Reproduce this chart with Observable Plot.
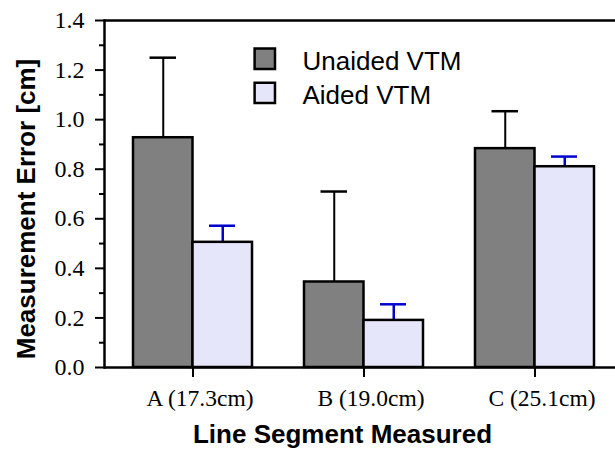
<!DOCTYPE html>
<html><head><meta charset="utf-8">
<script src="https://cdn.jsdelivr.net/npm/d3@7"></script>
<script src="https://cdn.jsdelivr.net/npm/@observablehq/plot@0.6"></script>
<style>body{margin:0;background:#fff} svg{display:block}</style>
</head><body><div id="chart"></div>
<script>
const groups = ["A (17.3cm)", "B (19.0cm)", "C (25.1cm)"];
const seriesNames = ["Unaided VTM", "Aided VTM"];
const unaided = [0.927, 0.345, 0.883];
const unaidedErr = [0.323, 0.365, 0.151];
const aided = [0.505, 0.19, 0.81];
const aidedErr = [0.067, 0.065, 0.041];
const yTicks = [0, 0.2, 0.4, 0.6, 0.8, 1.0, 1.2, 1.4];
const yMinorTicks = [0.1, 0.3, 0.5, 0.7, 0.9, 1.1, 1.3];
const yTitle = "Measurement Error [cm]";
const xTitle = "Line Segment Measured";

const fills = {"Unaided VTM": "#808080", "Aided VTM": "#e6e6fa"};
const errColors = {"Unaided VTM": "#000000", "Aided VTM": "#0000cc"};
const valuesBy = {"Unaided VTM": unaided, "Aided VTM": aided};
const errBy = {"Unaided VTM": unaidedErr, "Aided VTM": aidedErr};

// per-series placement inside a group band (styles)
const layout = {
  "Unaided VTM": {barL: 26, barR: 85.5, capL: 42.5, capR: 102, dx: -29.75},
  "Aided VTM":   {barL: 85.5, barR: 26, capL: 102, capR: 43, dx: 29.75}
};

const sans = "Liberation Sans, Arial, sans-serif";
const serif = "Liberation Serif, Times New Roman, serif";

const marks = [];
// frame lines
marks.push(Plot.ruleY([1.4], {stroke: "black", strokeWidth: 2.5}));
marks.push(Plot.ruleY([0], {stroke: "black", strokeWidth: 2.5}));
marks.push(Plot.frame({anchor: "left", stroke: "black", strokeWidth: 2.5}));
// y axis
marks.push(Plot.axisY(yTicks, {tickSize: 9, tickPadding: 11, tickFormat: d3.format(".1f"),
  fontSize: 24, fontFamily: serif, color: "black", strokeWidth: 2, label: null}));
marks.push(Plot.axisY(yMinorTicks, {tickSize: 5, tickFormat: () => "", color: "black", strokeWidth: 2, label: null}));
// x axis
marks.push(Plot.axisX({tickSize: 10, tickFormat: () => "", color: "black", strokeWidth: 2, label: null}));
marks.push(Plot.axisX({tickSize: 0, tickPadding: 22, dx: 7, fontSize: 23.5, fontFamily: serif, color: "black", label: null}));

for (const s of seriesNames) {
  const rows = groups.map((g, i) => ({group: g, value: valuesBy[s][i], top: valuesBy[s][i] + errBy[s][i]}));
  const L = layout[s];
  marks.push(Plot.ruleX(rows, {x: "group", y1: "value", y2: "top", dx: L.dx, stroke: errColors[s], strokeWidth: s === "Aided VTM" ? 2.5 : 2}));
  marks.push(Plot.tickY(rows, {x: "group", y: "top", insetLeft: L.capL, insetRight: L.capR, stroke: errColors[s], strokeWidth: 2.5}));
  marks.push(Plot.barY(rows, {x: "group", y: "value", insetLeft: L.barL, insetRight: L.barR, fill: fills[s], stroke: "black", strokeWidth: 2.5}));
}

// legend
seriesNames.forEach((s, i) => {
  marks.push(Plot.dot([s], {frameAnchor: "top-left", dx: 160.3, dy: 38.2 + 34.2 * i, symbol: "square", r: 11.5,
    fill: fills[s], stroke: "black", strokeWidth: 2.5}));
  marks.push(Plot.text([s], {frameAnchor: "top-left", dx: 198, dy: 40.7 + 34 * i, text: d => d, textAnchor: "start",
    lineAnchor: "middle", fontSize: 26, fontFamily: sans, fill: "black"}));
});

// titles
marks.push(Plot.text([yTitle], {frameAnchor: "left", rotate: -90, dx: -78, dy: 15, text: d => d, fontSize: 26,
  fontWeight: "bold", fontFamily: sans, fill: "black", textAnchor: "middle", lineAnchor: "middle"}));
marks.push(Plot.text([xTitle], {frameAnchor: "bottom", dx: -17.5, dy: 66.7, text: d => d, fontSize: 26,
  fontWeight: "bold", fontFamily: sans, fill: "black", textAnchor: "middle", lineAnchor: "middle"}));

const chart = Plot.plot({
  width: 615, height: 449,
  marginLeft: 104, marginRight: 0, marginTop: 20, marginBottom: 82,
  style: {background: "white", color: "black", overflow: "visible"},
  x: {domain: groups, range: [107, 620], padding: 0, axis: null},
  y: {domain: [0, 1.4], axis: null},
  marks
});
document.getElementById("chart").appendChild(chart);
</script>
</body></html>
